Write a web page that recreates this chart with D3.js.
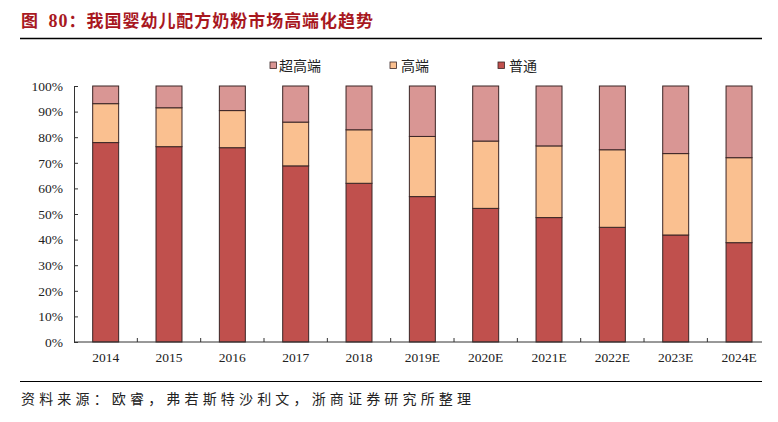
<!DOCTYPE html>
<html>
<head>
<meta charset="utf-8">
<script src="https://cdn.jsdelivr.net/npm/d3@7"></script>
<style>
  html, body { margin: 0; padding: 0; background: #fff; }
  svg { display: block; }
</style>
</head>
<body>
<svg id="chart" width="778" height="422"></svg>
<script>
// ---- data ----
const years = ["2014","2015","2016","2017","2018","2019E","2020E","2021E","2022E","2023E","2024E"];
const normalShare    = [77.9, 76.3, 75.9, 68.8, 62.0, 56.8, 52.2, 48.6, 44.8, 41.8, 38.8]; // 普通
const highShare      = [15.2, 15.2, 14.5, 17.1, 20.9, 23.5, 26.3, 28.0, 30.3, 31.8, 33.2]; // 高端
const superHighShare = [ 6.9,  8.5,  9.6, 14.1, 17.1, 19.7, 21.5, 23.4, 24.9, 26.4, 28.0]; // 超高端
const seriesNames = ["普通", "高端", "超高端"];
const legendOrder = ["超高端", "高端", "普通"];
const yTicks = [0,10,20,30,40,50,60,70,80,90,100];
const titleParts = ["图  ", "80", "：我国婴幼儿配方奶粉市场高端化趋势"];
const sourceText = "资料来源：欧睿，弗若斯特沙利文，浙商证券研究所整理";

// ---- styling ----
const colors = { "普通": "#C0504D", "高端": "#FAC090", "超高端": "#D99694" };
const svg = d3.select("#chart");
const plotLeft = 74, plotRight = 770.7, axisEnd = 762, plotTop = 86, plotBottom = 342;

const rows = years.map((yr, i) => ({ year: yr, "普通": normalShare[i], "高端": highShare[i], "超高端": superHighShare[i] }));
const stack = d3.stack().keys(seriesNames)(rows);

const x = d3.scaleBand().domain(years).range([plotLeft, plotRight]).paddingInner(0.59).paddingOuter(0.295);
const y = d3.scaleLinear().domain([0, 100]).range([plotBottom, plotTop]);

// title
const title = svg.append("text")
  .attr("x", 21).attr("y", 27)
  .attr("font-family", "'Noto Sans CJK SC', sans-serif")
  .attr("font-weight", "bold").attr("font-size", 17)
  .attr("fill", "#A8181F")
  .attr("xml:space", "preserve")
  .style("white-space", "pre");
title.append("tspan").text(titleParts[0]);
title.append("tspan").attr("font-family", "'Liberation Serif', serif").attr("font-size", 18).text(titleParts[1]);
title.append("tspan").text(titleParts[2]);
title.attr("textLength", 352).attr("lengthAdjust", "spacing");
svg.append("line").attr("x1", 20).attr("x2", 762).attr("y1", 38.5).attr("y2", 38.5)
  .attr("stroke", "#000").attr("stroke-width", 1.5);

// bars
svg.append("g").selectAll("g").data(stack).join("g")
  .attr("fill", d => colors[d.key])
  .selectAll("rect").data(d => d).join("rect")
  .attr("x", d => x(d.data.year))
  .attr("width", x.bandwidth())
  .attr("y", d => y(d[1]))
  .attr("height", d => y(d[0]) - y(d[1]))
  .attr("stroke", "#3a2525").attr("stroke-width", 1);

// y axis
const yAxis = svg.append("g").attr("transform", `translate(${plotLeft},0)`)
  .call(d3.axisLeft(y).tickValues(yTicks).tickFormat(d => d + "%").tickSizeInner(-4).tickSizeOuter(0).tickPadding(11));
yAxis.select(".domain").attr("stroke", "#333");
yAxis.selectAll(".tick line").attr("stroke", "#333");
yAxis.selectAll("text").attr("font-family", "'Liberation Serif', serif").attr("font-size", 13.5).attr("fill", "#222");

// x axis
const xAxis = svg.append("g").attr("transform", `translate(0,${plotBottom})`)
  .call(d3.axisBottom(x).tickSize(0).tickPadding(10));
xAxis.select(".domain").remove();
xAxis.selectAll("text").attr("font-family", "'Liberation Serif', serif").attr("font-size", 13.5).attr("fill", "#222");
svg.append("line").attr("x1", plotLeft).attr("x2", axisEnd).attr("y1", plotBottom).attr("y2", plotBottom)
  .attr("stroke", "#333").attr("stroke-width", 1);
svg.append("g").selectAll("line").data(years.slice(1)).join("line")
  .attr("x1", d => x(d) - x.step() * 0.295).attr("x2", d => x(d) - x.step() * 0.295)
  .attr("y1", plotBottom).attr("y2", plotBottom - 4)
  .attr("stroke", "#333");

// legend
const legendPos = { "超高端": 270, "高端": 390, "普通": 498 };
const lg = svg.append("g").selectAll("g").data(legendOrder).join("g")
  .attr("transform", d => `translate(${legendPos[d]},62)`);
lg.append("rect").attr("width", 6.5).attr("height", 6.5)
  .attr("fill", d => colors[d]).attr("stroke", "#3a2525").attr("stroke-width", 0.8);
lg.append("text").attr("x", d => d === "超高端" ? 9 : 11).attr("y", 8.5)
  .attr("font-family", "'Noto Sans CJK SC', sans-serif").attr("font-size", 14).attr("fill", "#222")
  .text(d => d);

// source
svg.append("line").attr("x1", 20).attr("x2", 762).attr("y1", 381.5).attr("y2", 381.5)
  .attr("stroke", "#000").attr("stroke-width", 1.2);
svg.append("text").attr("x", 21).attr("y", 404)
  .attr("font-family", "'Noto Sans CJK SC', sans-serif").attr("font-size", 14).attr("fill", "#222")
  .attr("textLength", 450).attr("lengthAdjust", "spacing")
  .text(sourceText);
</script>
</body>
</html>
